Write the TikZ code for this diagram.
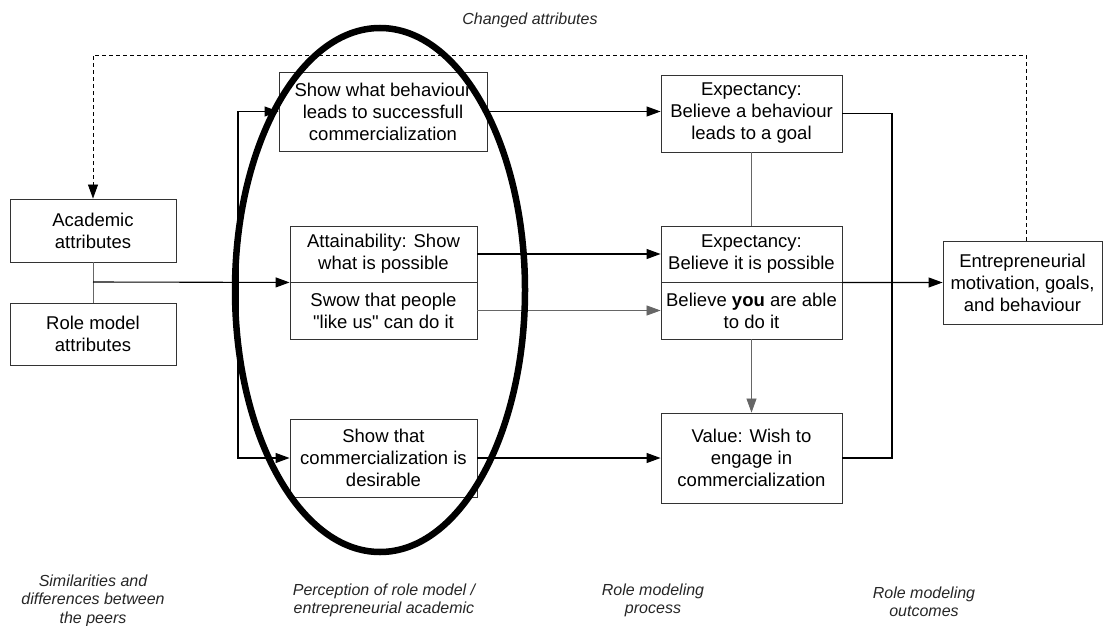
\documentclass[tikz,border=0pt]{standalone}
\usepackage{fontspec}
\setmainfont{Liberation Sans}
\usetikzlibrary{arrows.meta}
\begin{document}
\begin{tikzpicture}[x=1pt,y=-1pt,
  blk/.style={draw=black!80, line width=0.9pt, fill=white, align=center,
    inner sep=0pt, font=\fontsize{18.5}{22}\selectfont},
  link/.style={line width=1.1pt, black},
  faint/.style={line width=0.8pt, black!60},
  arr/.style={-{Triangle[length=14pt,width=10pt]}},
  caption/.style={align=center, inner sep=0pt,
    font=\fontsize{16}{18.5}\selectfont\itshape, text=black!85}]
\useasboundingbox[fill=white] (0,0) rectangle (1103,626);

% first column: attributes of the peers
\node[blk, minimum width=166pt, minimum height=63pt] (acad) at (93,230.5) {Academic\\attributes};
\node[blk, minimum width=166pt, minimum height=62pt] (rolem) at (93,334) {Role model\\attributes};

% second column: perception of the role model
\node[blk, minimum width=208pt, minimum height=79pt] (showbeh) at (383,111.5) {Show what behaviour\\leads to successfull\\commercialization};
\node[blk, minimum width=187pt, minimum height=56pt] (attain) at (383.5,254) {Attainability: Show\\what is possible};
\node[blk, minimum width=187pt, minimum height=57pt] (swow) at (383.5,310.5) {Swow that people\\\textquotedbl like us\textquotedbl{} can do it};
\node[blk, minimum width=187pt, minimum height=78pt] (desir) at (383.5,458) {Show that\\commercialization is\\desirable};

% third column: role modeling process
\node[blk, minimum width=181pt, minimum height=77pt] (exp1) at (751.5,113.5) {Expectancy:\\Believe a behaviour\\leads to a goal};
\node[blk, minimum width=181pt, minimum height=56pt] (exp2a) at (751.5,254) {Expectancy:\\Believe it is possible};
\node[blk, minimum width=181pt, minimum height=57pt] (exp2b) at (751.5,310.5) {Believe \textbf{you} are able\\to do it};
\node[blk, minimum width=181pt, minimum height=90pt] (value) at (751.5,458) {Value: Wish to\\engage in\\commercialization};

% fourth column: outcome
\node[blk, minimum width=159pt, minimum height=83pt] (entre) at (1022.5,282.5) {Entrepreneurial\\motivation, goals,\\and behaviour};

% junction points
\coordinate (jn) at (93,282);
\coordinate (brk) at (238,282);
\coordinate (rt) at (892,282);
\coordinate (top) at (1026,55);

% connectors
\draw[faint] (acad.south) -- (rolem.north);
\draw[link, arr] (jn) -- (attain.south west);
\draw[link, arr] (brk) |- (showbeh.west);
\draw[link, arr] (brk) |- (desir.west);
\draw[link, arr] (showbeh.east) -- (showbeh.east -| exp1.west);
\draw[link, arr] (attain.east) -- (exp2a.west);
\draw[faint, arr] (swow.east) -- (exp2b.west);
\draw[link, arr] (desir.east) -- (value.west);
\draw[faint] (exp1.south) -- (exp2a.north);
\draw[faint, arr] (exp2b.south) -- (value.north);
\draw[link] (exp1.east) -| (rt) |- (value.east);
\draw[link, arr] (exp2a.south east) -- (entre.west);
\draw[line width=0.8pt, dash pattern=on 4pt off 3pt, arr]
  (entre.north -| top) -- (top) -| (acad.north);

% column captions
\node[caption] at (530,20) {Changed attributes};
\node[caption] at (93,600.5) {Similarities and\\differences between\\the peers};
\node[caption] at (384,600.5) {Perception of role model /\\entrepreneurial academic};
\node[caption] at (653,600.5) {Role modeling\\process};
\node[caption] at (924,602) {Role modeling\\outcomes};

% emphasis ring around the perception column
\draw[line width=6.5pt, black] (380,290) ellipse [x radius=145, y radius=262];
\end{tikzpicture}
\end{document}
